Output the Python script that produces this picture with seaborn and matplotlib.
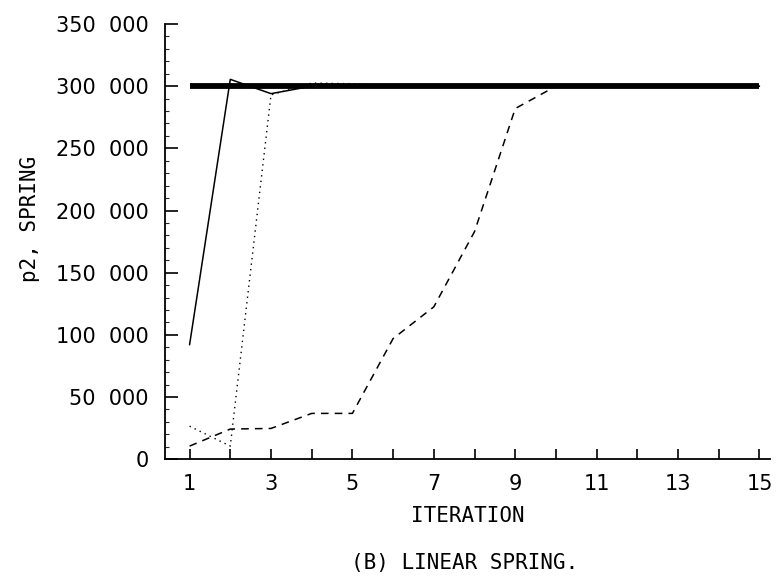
import matplotlib
matplotlib.use("Agg")
import matplotlib.pyplot as plt
import seaborn as sns
import numpy as np
import pandas as pd
from matplotlib.ticker import FuncFormatter, MultipleLocator

# data
iterations = list(range(1, 16))
exact_value = [300000] * 15

solid_iter = [1, 2, 3, 4, 5, 15]
solid_vals = [92000, 305500, 294000, 300000, 300000, 300000]

dotted_iter = [1, 2, 3, 4, 5, 6, 15]
dotted_vals = [26500, 10500, 293000, 302500, 302000, 300000, 300000]

dashed_iter = [1, 2, 3, 4, 5, 6, 7, 8, 9, 10, 15]
dashed_vals = [10500, 24200, 24700, 36800, 36800, 97000, 122500, 183000, 282000, 300000, 300000]

xtick_labels = [str(i) if i % 2 == 1 else "" for i in iterations]

sns.set_style("ticks")
plt.rcParams['font.family'] = ['DejaVu Sans']
plt.rcParams['text.color'] = 'black'
plt.rcParams['axes.labelcolor'] = 'black'

fig = plt.figure(figsize=(7.79, 5.79), dpi=100)
ax = fig.add_axes([0.212, 0.207, 0.776, 0.7515])

sns.lineplot(x=iterations, y=exact_value, ax=ax, color="black", linewidth=4.2)
sns.lineplot(x=solid_iter, y=solid_vals, ax=ax, color="black", linewidth=1.1)
sns.lineplot(x=dotted_iter, y=dotted_vals, ax=ax, color="black", linewidth=1.0,
             linestyle=(0, (1, 3)))
sns.lineplot(x=dashed_iter, y=dashed_vals, ax=ax, color="black", linewidth=1.1,
             linestyle=(0, (5, 4)))
ax.lines[0].set_solid_capstyle("butt")

ax.set_xlim(0.4, 15.25)
ax.set_ylim(0, 350000)
ax.set_xticks(iterations)
ax.set_xticklabels(xtick_labels)
ax.set_yticks(np.arange(0, 350001, 50000))
ax.yaxis.set_major_formatter(FuncFormatter(lambda v, p: "0" if v == 0 else f"{int(v):,}".replace(",", "  ")))
ax.yaxis.set_minor_locator(MultipleLocator(10000))

ax.tick_params(axis="both", which="major", direction="in", length=9, width=1.2,
               labelsize=15, colors="black")
ax.tick_params(axis="x", which="major", pad=11, length=7)
ax.tick_params(axis="y", which="major", pad=12)
ax.tick_params(axis="y", which="minor", direction="in", length=3, width=0.8)

for side in ["top", "right"]:
    ax.spines[side].set_visible(False)
for side in ["left", "bottom"]:
    ax.spines[side].set_linewidth(1.3)
    ax.spines[side].set_color("black")

mono = "DejaVu Sans Mono"
ax.set_xlabel("ITERATION", family=mono, fontsize=15, labelpad=8, color="black")
ax.set_ylabel("")
fig.text(0.039, 0.622, "p2, SPRING", family=mono, fontsize=15, rotation=90,
         ha="center", va="center", color="black")
fig.text(0.597, 0.028, "(B) LINEAR SPRING.", family=mono, fontsize=15,
         ha="center", va="center", color="black")

fig.savefig("out.png", dpi=100)
